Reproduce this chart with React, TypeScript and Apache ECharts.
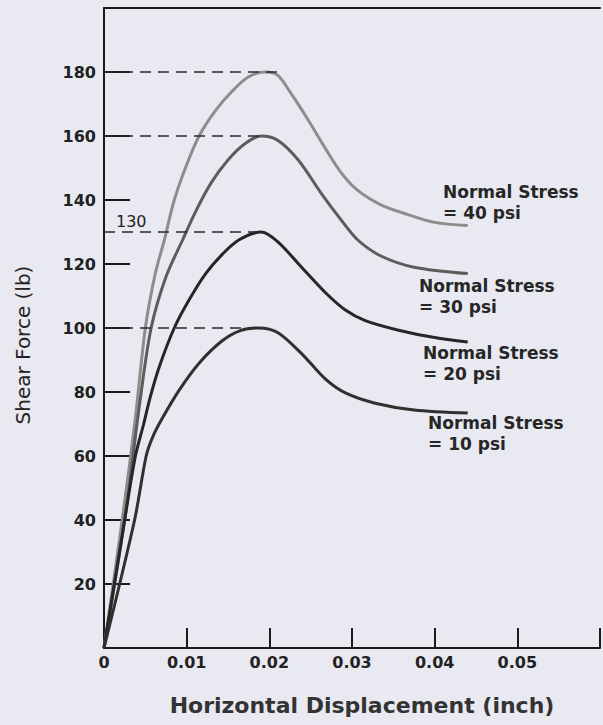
import React, { useEffect, useRef } from "react";
import * as echarts from "echarts";

// Horizontal displacement (inch) / shear force (lb)
const disp40 = [0, 0.0022, 0.0038, 0.005, 0.0062, 0.0073, 0.0085, 0.01, 0.0115, 0.0135, 0.0155, 0.0175, 0.0195, 0.021, 0.0227, 0.0247, 0.0268, 0.0287, 0.0307, 0.0335, 0.0367, 0.04, 0.044];
const force40 = [0, 40, 72, 100, 117, 127.5, 140, 151, 160, 168, 174, 178.5, 180, 179, 173, 165, 156, 148.5, 143, 138.5, 135.5, 133, 132];

const disp30 = [0, 0.0025, 0.0044, 0.0057, 0.0075, 0.0095, 0.0112, 0.013, 0.015, 0.017, 0.019, 0.021, 0.0235, 0.0263, 0.0287, 0.0307, 0.0335, 0.0375, 0.044];
const force30 = [0, 40, 78, 100, 116, 127.5, 137, 145.5, 152.5, 157.5, 160, 158.7, 152.5, 142, 133.7, 127.5, 122.5, 119, 117];

const disp20 = [0, 0.0025, 0.0038, 0.0048, 0.0056, 0.0067, 0.0085, 0.0103, 0.0123, 0.0143, 0.0163, 0.019, 0.021, 0.0239, 0.0268, 0.0292, 0.0316, 0.0355, 0.04, 0.044];
const force20 = [0, 40, 60, 70, 78.5, 88, 100, 108.8, 117, 123, 127.5, 130, 127, 119, 111, 105.6, 102.3, 99.4, 97, 95.6];

const disp10 = [0, 0.0037, 0.0051, 0.0059, 0.0071, 0.0091, 0.0115, 0.0143, 0.0165, 0.0187, 0.021, 0.0239, 0.0268, 0.0292, 0.0328, 0.0375, 0.044];
const force10 = [0, 40, 60, 66, 72, 80.6, 89, 96, 99.2, 100, 98.6, 92, 84, 79.7, 76.5, 74.4, 73.4];

// Peak guide lines: peak force and where each dashed line ends
const peakForces = [180, 160, 130, 100];
const peakEnds = [0.0213, 0.0192, 0.0192, 0.0192];
const peakLabelValue = 130;

const stressLabels = ["= 40 psi", "= 30 psi", "= 20 psi", "= 10 psi"];
const labelLeft = [443, 419, 423, 428];
const labelTop = [193, 287, 354, 424];

const xMin = 0, xMax = 0.06, xStep = 0.01;
const yMin = 0, yMax = 200, yStep = 20;

export default function App() {
  const ref = useRef<HTMLDivElement>(null);
  useEffect(() => {
    const chart = echarts.init(ref.current!, null, { renderer: "svg" });
    const pair = (xs: number[], ys: number[]) => xs.map((x, i) => [x, ys[i]]);
    const font = "DejaVu Sans";
    const curve = (name: string, xs: number[], ys: number[], color: string) => ({
      name,
      type: "line",
      data: pair(xs, ys),
      showSymbol: false,
      smooth: 0.3,
      lineStyle: { color, width: 3 },
      silent: true,
      z: 3,
    });
    const graphics: any[] = [];
    stressLabels.forEach((s, i) => {
      graphics.push({
        type: "text",
        left: labelLeft[i],
        top: labelTop[i] - 10,
        style: { text: "Normal Stress", font: `bold 17px ${font}`, fill: "#262626" },
      });
      graphics.push({
        type: "text",
        left: labelLeft[i],
        top: labelTop[i] + 11,
        style: { text: s, font: `bold 17px ${font}`, fill: "#262626" },
      });
    });
    graphics.push({
      type: "text",
      x: 362,
      y: 705,
      style: { text: "Horizontal Displacement (inch)", font: `bold 22px ${font}`, fill: "#333", align: "center", verticalAlign: "middle" },
    });
    graphics.push({
      type: "text",
      x: 23,
      y: 345,
      rotation: Math.PI / 2,
      style: { text: "Shear Force (lb)", font: `20px ${font}`, fill: "#222", align: "center", verticalAlign: "middle" },
    });

    chart.setOption({
      animation: false,
      backgroundColor: "#e9e9f1",
      grid: { left: 104, right: 0, top: 8, bottom: 77 },
      xAxis: [
        {
          type: "value",
          min: xMin,
          max: xMax,
          interval: xStep,
          splitLine: { show: false },
          axisLine: { lineStyle: { color: "#1a1a1a", width: 2 } },
          axisTick: { inside: true, length: 20, lineStyle: { color: "#1a1a1a", width: 2 } },
          axisLabel: {
            margin: 6,
            color: "#222",
            fontFamily: font,
            fontWeight: "bold",
            fontSize: 16,
            formatter: (v: number) => (v > xMax - 1e-9 ? "" : v === 0 ? "0" : v.toFixed(2)),
          },
        },
        {
          type: "value",
          position: "top",
          min: xMin,
          max: xMax,
          axisLine: { show: true, lineStyle: { color: "#1a1a1a", width: 2 } },
          axisTick: { show: false },
          axisLabel: { show: false },
          splitLine: { show: false },
        },
      ],
      yAxis: {
        type: "value",
        min: yMin,
        max: yMax,
        interval: yStep,
        splitLine: { show: false },
        axisLine: { show: true, lineStyle: { color: "#1a1a1a", width: 2 } },
        axisTick: { inside: true, length: 26, lineStyle: { color: "#1a1a1a", width: 2 } },
        axisLabel: {
          margin: 8,
          color: "#222",
          fontFamily: font,
          fontWeight: "bold",
          fontSize: 16,
          formatter: (v: number) => (v === yMin || v === yMax ? "" : String(v)),
        },
      },
      graphic: graphics,
      series: [
        {
          type: "line",
          data: [],
          silent: true,
          markLine: {
            silent: true,
            symbol: "none",
            lineStyle: { type: [11, 7], color: "#2a2a2a", width: 1.5 },
            label: { show: false },
            data: peakForces.map((f, i) => [
              {
                coord: [0, f],
                label:
                  f === peakLabelValue
                    ? { show: true, position: "insideStartTop", formatter: String(peakLabelValue), color: "#222", fontFamily: font, fontSize: 16, distance: [12, 3] }
                    : { show: false },
              },
              { coord: [peakEnds[i], f] },
            ]),
          },
        },
        curve("40 psi", disp40, force40, "#8d8d8d"),
        curve("30 psi", disp30, force30, "#5c5c5c"),
        curve("20 psi", disp20, force20, "#262626"),
        curve("10 psi", disp10, force10, "#303030"),
      ],
    });
    return () => chart.dispose();
  }, []);
  return (
    <div
      ref={ref}
      style={{ position: "fixed", left: 0, top: 0, width: 603, height: 725, background: "#e9e9f1" }}
    />
  );
}
